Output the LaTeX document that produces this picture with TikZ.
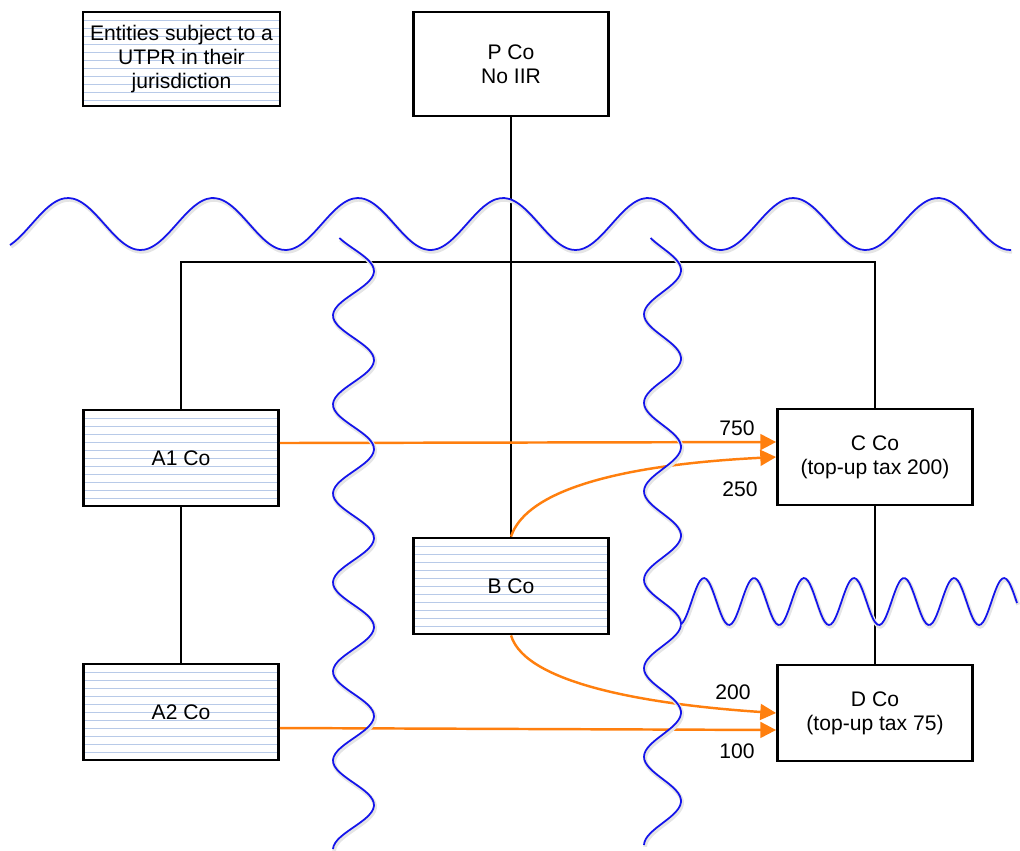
\documentclass[tikz,border=0pt]{standalone}
\usepackage{fontspec}
\setmainfont{Liberation Sans}
\usetikzlibrary{arrows.meta}

\definecolor{flowor}{RGB}{255,127,14}
\definecolor{wavblue}{RGB}{20,20,235}
\definecolor{hatchblue}{RGB}{184,202,232}

\tikzset{
  entity/.style={draw, line width=1.6pt, fill=white, minimum width=3.9cm,
    minimum height=1.92cm, align=center, font=\fontsize{12}{13.5}\selectfont},
  utpr/.style={entity, path picture={
    \foreach \k in {1,...,13}
      \draw[hatchblue, line width=0.55pt]
        ([yshift=-\k*0.16cm]path picture bounding box.north west) --
        ([yshift=-\k*0.16cm]path picture bounding box.north east);}},
  link/.style={line width=1.25pt},
  flow/.style={draw=flowor, line width=1.4pt, -{Triangle[length=9pt,width=9pt]}},
  amount/.style={font=\fontsize{12}{13.5}\selectfont},
  wave/.style={wavblue, line width=1pt,
    preaction={draw=black!10, line width=2.2pt, transform canvas={xshift=0.6pt,yshift=-1pt}}}
}

\begin{document}
\begin{tikzpicture}[x=0.02cm, y=-0.02cm]
  \useasboundingbox (0,0) rectangle (1020,850);
  % Boxes
  \node[utpr, minimum width=3.94cm, minimum height=1.88cm] (legend) at (181.5,59)
    {Entities subject to a\\UTPR in their\\jurisdiction};
  \node[entity, minimum height=2.08cm] (pco) at (511,64) {P Co\\No IIR};
  \node[utpr] (a1) at (181,458) {A1 Co};
  \node[utpr] (a2) at (181,712) {A2 Co};
  \node[utpr] (bco) at (511,586) {B Co};
  \node[entity] (cco) at (875,457) {C Co\\(top-up tax 200)};
  \node[entity] (dco) at (875,713) {D Co\\(top-up tax 75)};
  % Ownership lines
  \coordinate (bus) at (511,262);
  \draw[link] (pco) -- (bco);
  \draw[link] (a1.north) |- (bus) -| (cco.north);
  \draw[link] (a1) -- (a2);
  \draw[link] (cco) -- (dco);
  % Payments
  \draw[flow] ([yshift=0.3cm]a1.east) -- ([yshift=0.3cm]cco.west);
  \draw[flow] (bco.north) .. controls +(20,-60) and +(-100,5) .. (cco.west);
  \draw[flow] (bco.south) .. controls +(15,50) and +(-120,-8) .. (dco.west);
  \draw[flow] ([yshift=-0.32cm]a2.east) -- ([yshift=-0.34cm]dco.west);
  \node[amount] (v750) at (737,428) {750};
  \node[amount] (v250) at (740,489) {250};
  \node[amount] (v200) at (733,692) {200};
  \node[amount] (v100) at (737,751) {100};
  % Jurisdiction borders
  \draw[wave] plot[domain=10:1011, samples=240, smooth]
    (\x, {224-26*cos((\x-68)/145*360)});
  \draw[wave] plot[domain=238:849, samples=200, smooth, variable=\t]
    ({353.5+20.5*cos((\t-271)/89*360)}, \t);
  \draw[wave] plot[domain=238:845, samples=200, smooth, variable=\t]
    ({662.5+18.5*cos((\t-270)/88.5*360)}, \t);
  \draw[wave] plot[domain=681:1017, samples=160, smooth]
    (\x, {601.5-23.5*cos((\x-704)/50*360)});
\end{tikzpicture}
\end{document}
